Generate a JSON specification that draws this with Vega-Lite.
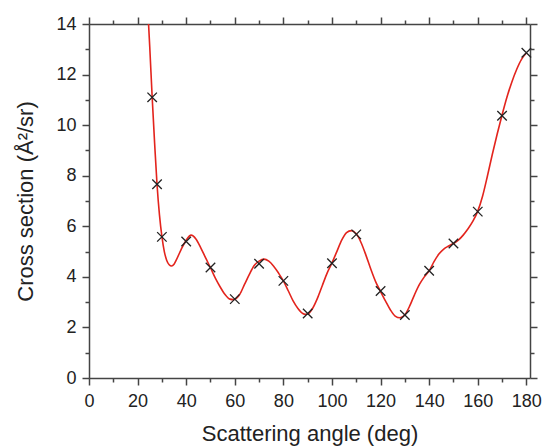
{
  "$schema": "https://vega.github.io/schema/vega-lite/v6.json",
  "width": 441,
  "height": 354,
  "autosize": {"type": "none"},
  "padding": {"left": 89, "top": 24, "right": 14, "bottom": 69},
  "background": "white",
  "config": {
    "view": {"stroke": null},
    "axis": {
      "grid": false,
      "domainColor": "#444444",
      "domainWidth": 1.5,
      "tickColor": "#444444",
      "tickWidth": 1.5,
      "labelFont": "Liberation Sans",
      "labelFontSize": 18,
      "labelColor": "#222222",
      "titleFont": "Liberation Sans",
      "titleFontSize": 22,
      "titleFontWeight": "normal",
      "titleColor": "#222222"
    }
  },
  "datasets": {
    "curve": [
      {"angle": 24.4, "cs": 14.2}, {"angle": 25, "cs": 13.1}, {"angle": 26, "cs": 11.1}, {"angle": 27, "cs": 9.3},
      {"angle": 28, "cs": 7.65}, {"angle": 29, "cs": 6.45}, {"angle": 30, "cs": 5.6}, {"angle": 31, "cs": 5.0},
      {"angle": 32, "cs": 4.65}, {"angle": 33, "cs": 4.48}, {"angle": 34, "cs": 4.43}, {"angle": 35, "cs": 4.5},
      {"angle": 36, "cs": 4.68}, {"angle": 38, "cs": 5.1}, {"angle": 40, "cs": 5.45}, {"angle": 42, "cs": 5.65},
      {"angle": 44, "cs": 5.5}, {"angle": 46, "cs": 5.15}, {"angle": 48, "cs": 4.75}, {"angle": 50, "cs": 4.36},
      {"angle": 52, "cs": 3.95}, {"angle": 54, "cs": 3.6}, {"angle": 56, "cs": 3.3}, {"angle": 58, "cs": 3.12},
      {"angle": 59.5, "cs": 3.1}, {"angle": 62, "cs": 3.3}, {"angle": 64, "cs": 3.7}, {"angle": 66, "cs": 4.1},
      {"angle": 68, "cs": 4.45}, {"angle": 70, "cs": 4.62}, {"angle": 72, "cs": 4.7}, {"angle": 74, "cs": 4.62},
      {"angle": 76, "cs": 4.42}, {"angle": 78, "cs": 4.15}, {"angle": 80, "cs": 3.84}, {"angle": 82, "cs": 3.45},
      {"angle": 84, "cs": 3.05}, {"angle": 86, "cs": 2.75}, {"angle": 88, "cs": 2.55}, {"angle": 89, "cs": 2.52},
      {"angle": 90, "cs": 2.53}, {"angle": 92, "cs": 2.75}, {"angle": 94, "cs": 3.15}, {"angle": 96, "cs": 3.65},
      {"angle": 98, "cs": 4.15}, {"angle": 100, "cs": 4.55}, {"angle": 102, "cs": 5.0}, {"angle": 104, "cs": 5.45},
      {"angle": 106, "cs": 5.75}, {"angle": 108, "cs": 5.83}, {"angle": 110, "cs": 5.7}, {"angle": 112, "cs": 5.35},
      {"angle": 114, "cs": 4.85}, {"angle": 116, "cs": 4.3}, {"angle": 118, "cs": 3.8}, {"angle": 120, "cs": 3.42},
      {"angle": 122, "cs": 3.05}, {"angle": 124, "cs": 2.7}, {"angle": 126, "cs": 2.45}, {"angle": 128, "cs": 2.38},
      {"angle": 130, "cs": 2.5}, {"angle": 132, "cs": 2.85}, {"angle": 134, "cs": 3.3}, {"angle": 136, "cs": 3.7},
      {"angle": 138, "cs": 4.0}, {"angle": 140, "cs": 4.24}, {"angle": 142, "cs": 4.6}, {"angle": 144, "cs": 4.9},
      {"angle": 146, "cs": 5.1}, {"angle": 148, "cs": 5.22}, {"angle": 150, "cs": 5.32}, {"angle": 152, "cs": 5.45},
      {"angle": 154, "cs": 5.65}, {"angle": 156, "cs": 5.9}, {"angle": 158, "cs": 6.2}, {"angle": 160, "cs": 6.6},
      {"angle": 162, "cs": 7.2}, {"angle": 164, "cs": 8.0}, {"angle": 166, "cs": 8.85}, {"angle": 168, "cs": 9.65},
      {"angle": 170, "cs": 10.4}, {"angle": 172, "cs": 11.1}, {"angle": 174, "cs": 11.7}, {"angle": 176, "cs": 12.2},
      {"angle": 178, "cs": 12.6}, {"angle": 180, "cs": 12.85}
    ],
    "points": [
      {"angle": 26, "cs": 11.1}, {"angle": 28, "cs": 7.66}, {"angle": 30, "cs": 5.58}, {"angle": 40, "cs": 5.4},
      {"angle": 50, "cs": 4.37}, {"angle": 60, "cs": 3.12}, {"angle": 70, "cs": 4.52}, {"angle": 80, "cs": 3.84},
      {"angle": 90, "cs": 2.55}, {"angle": 100, "cs": 4.54}, {"angle": 110, "cs": 5.68}, {"angle": 120, "cs": 3.44},
      {"angle": 130, "cs": 2.49}, {"angle": 140, "cs": 4.24}, {"angle": 150, "cs": 5.32}, {"angle": 160, "cs": 6.58},
      {"angle": 170, "cs": 10.37}, {"angle": 180, "cs": 12.86}
    ]
  },
  "layer": [
    {
      "data": {"name": "curve"},
      "mark": {"type": "line", "color": "#e3241d", "strokeWidth": 1.6, "interpolate": "monotone", "clip": true},
      "encoding": {
        "x": {
          "field": "angle", "type": "quantitative",
          "scale": {"domain": [0, 181.5], "nice": false, "zero": false},
          "axis": {
            "orient": "bottom",
            "title": "Scattering angle (deg)",
            "values": [0, 10, 20, 30, 40, 50, 60, 70, 80, 90, 100, 110, 120, 130, 140, 150, 160, 170, 180],
            "labelExpr": "datum.value % 20 === 0 ? datum.label : ''",
            "tickSize": {"condition": {"test": "datum.value % 20 === 0", "value": 7}, "value": 4},
            "labelPadding": 7,
            "titlePadding": 13,
            "labelFlush": false
          }
        },
        "y": {
          "field": "cs", "type": "quantitative",
          "scale": {"domain": [0, 14], "nice": false},
          "axis": {
            "orient": "left",
            "title": "Cross section (Å²/sr)",
            "values": [0, 1, 2, 3, 4, 5, 6, 7, 8, 9, 10, 11, 12, 13, 14],
            "labelExpr": "datum.value % 2 === 0 ? datum.label : ''",
            "tickSize": {"condition": {"test": "datum.value % 2 === 0", "value": 7}, "value": 4},
            "labelPadding": 6,
            "titlePadding": 18,
            "labelFlush": false
          }
        }
      }
    },
    {
      "data": {"name": "points"},
      "mark": {"type": "point", "shape": "M-1,-1L1,1M-1,1L1,-1", "filled": false, "stroke": "#222222", "strokeWidth": 1.3, "size": 90, "opacity": 1},
      "encoding": {
        "x": {
          "field": "angle", "type": "quantitative",
          "scale": {"domain": [0, 181.5], "nice": false, "zero": false},
          "axis": {
            "orient": "top",
            "title": null,
            "labels": false,
            "values": [0, 10, 20, 30, 40, 50, 60, 70, 80, 90, 100, 110, 120, 130, 140, 150, 160, 170, 180],
            "tickSize": {"condition": {"test": "datum.value % 20 === 0", "value": 7}, "value": 4}
          }
        },
        "y": {
          "field": "cs", "type": "quantitative",
          "scale": {"domain": [0, 14], "nice": false},
          "axis": {
            "orient": "right",
            "title": null,
            "labels": false,
            "values": [0, 1, 2, 3, 4, 5, 6, 7, 8, 9, 10, 11, 12, 13, 14],
            "tickSize": {"condition": {"test": "datum.value % 2 === 0", "value": 7}, "value": 4}
          }
        }
      }
    }
  ],
  "resolve": {"axis": {"x": "independent", "y": "independent"}}
}
